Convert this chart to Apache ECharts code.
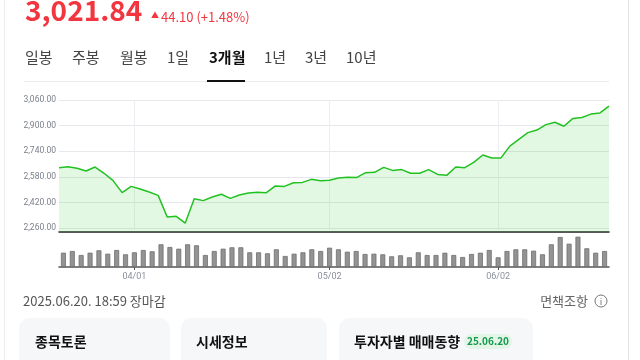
<!DOCTYPE html>
<html>
<head>
<meta charset="utf-8">
<script src="https://cdn.jsdelivr.net/npm/echarts@6/dist/echarts.min.js"></script>
<style>
html,body{margin:0;padding:0;background:#fff;}
#c{width:640px;height:360px;}
</style>
</head>
<body>
<div id="c"></div>
<script>
const dates = [
  '03/20','03/21','03/24','03/25','03/26','03/27','03/28','03/31',
  '04/01','04/02','04/03','04/04','04/07','04/08','04/09','04/10','04/11','04/14','04/15','04/16','04/17','04/18','04/21','04/22','04/23','04/24','04/25','04/28','04/29','04/30',
  '05/02','05/07','05/08','05/09','05/12','05/13','05/14','05/15','05/16','05/19','05/20','05/21','05/22','05/23','05/26','05/27','05/28','05/29','05/30',
  '06/02','06/04','06/05','06/09','06/10','06/11','06/12','06/13','06/16','06/17','06/18','06/19','06/20'
];
const closePrices = [
  2637,2643,2633,2616,2641,2602,2556,2481,
  2520,2504,2485,2464,2329,2333,2291,2443,2431,2454,2471,2445,2466,2479,2483,2481,2523,2520,2543,2545,2564,2556,
  2558,2572,2577,2575,2606,2608,2639,2620,2625,2602,2602,2625,2595,2589,2641,2637,2670,2716,2697,
  2697,2772,2814,2856,2872,2906,2921,2896,2945,2951,2972,2979,3022
];
const volumes = [
  286,320,240,286,334,266,340,254,
  294,340,314,454,400,366,454,434,240,320,366,394,394,294,294,274,354,220,266,294,354,320,
  386,354,306,320,260,266,254,214,234,194,294,240,240,286,240,200,260,286,340,
  194,320,354,354,326,254,454,600,466,606,374,286,320
];
const tickLabels = ['04/01','05/02','06/02'];
const priceTicks = [2260,2420,2580,2740,2900,3060];

const lastPrice = '3,021.84';
const changeText = '44.10 (+1.48%)';
const tabs = ['일봉','주봉','월봉','1일','3개월','1년','3년','10년'];
const selectedTab = '3개월';
const stampText = '2025.06.20. 18:59 장마감';

const KR = "'Noto Sans CJK KR','Noto Sans',sans-serif";
const showTick = (i, v) => tickLabels.indexOf(v) >= 0;

const tabX = [25,72,120,167,209,264,305,346];
const graphics = [];
// page borders
graphics.push({type:'line', shape:{x1:4.5,y1:0,x2:4.5,y2:360}, style:{stroke:'#ececec',lineWidth:1}});
graphics.push({type:'line', shape:{x1:628.5,y1:0,x2:628.5,y2:360}, style:{stroke:'#e4e4e4',lineWidth:1}});
// header
graphics.push({type:'text', left:25, top:-4, style:{text:lastPrice, font:"bold 28px "+KR, fill:'#f2363f'}});
graphics.push({type:'text', x:151, y:15, style:{text:'▲', font:"8px "+KR, fill:'#f2363f', verticalAlign:'middle'}});
graphics.push({type:'text', x:161, y:17, style:{text:changeText, font:"13px "+KR, fill:'#f2363f', verticalAlign:'middle'}});
// tabs
tabs.forEach((t, i) => {
  const sel = t === selectedTab;
  graphics.push({type:'text', x:tabX[i], y:57, style:{text:t, font:(sel?'bold ':'')+"15px "+KR, fill: sel?'#111':'#444', verticalAlign:'middle'}});
});
graphics.push({type:'line', shape:{x1:24,y1:81.5,x2:609,y2:81.5}, style:{stroke:'#ebebeb',lineWidth:1}});
graphics.push({type:'rect', shape:{x:207,y:80,width:38,height:2}, style:{fill:'#111'}});
// footer
graphics.push({type:'text', x:23, y:301, style:{text:stampText, font:"13px "+KR, fill:'#555', verticalAlign:'middle'}});
graphics.push({type:'text', x:588, y:301, style:{text:'면책조항', font:"13px "+KR, fill:'#666', verticalAlign:'middle', align:'right'}});
graphics.push({type:'circle', shape:{cx:601,cy:301,r:6}, style:{fill:'none', stroke:'#777', lineWidth:1}});
graphics.push({type:'text', x:601, y:301.5, style:{text:'i', font:"9px "+KR, fill:'#777', verticalAlign:'middle', align:'center'}});
// cards
[[19,151],[181,146],[339,194]].forEach(c => {
  graphics.push({type:'rect', shape:{x:c[0],y:318,width:c[1],height:60,r:10}, style:{fill:'#f6f7f9'}});
});
graphics.push({type:'text', x:35, y:342, style:{text:'종목토론', font:"bold 14px "+KR, fill:'#111', verticalAlign:'middle'}});
graphics.push({type:'text', x:196, y:342, style:{text:'시세정보', font:"bold 14px "+KR, fill:'#111', verticalAlign:'middle'}});
graphics.push({type:'text', x:354, y:342, style:{text:'투자자별 매매동향', font:"bold 14px "+KR, fill:'#111', verticalAlign:'middle'}});
graphics.push({type:'rect', shape:{x:464,y:334,width:48,height:15,r:7.5}, style:{fill:'#e2f5e7'}});
graphics.push({type:'text', x:488, y:341.5, style:{text:'25.06.20', font:"bold 10px "+KR, fill:'#12994a', verticalAlign:'middle', align:'center'}});

const chart = echarts.init(document.getElementById('c'), null, {renderer:'canvas'});
chart.setOption({
  animation:false,
  backgroundColor:'#fff',
  grid:[
    {left:59, right:31, top:100, bottom:128},
    {left:59, right:31, top:236, bottom:93},
    {left:59, right:31, top:100, bottom:132}
  ],
  xAxis:[
    {type:'category', gridIndex:0, data:dates, boundaryGap:false,
     axisLine:{show:true, lineStyle:{color:'#222', width:1.5}},
     axisTick:{show:false}, axisLabel:{show:false}, splitLine:{show:false}},
    {type:'category', gridIndex:1, data:dates, boundaryGap:true,
     axisLine:{show:true, lineStyle:{color:'#555', width:1.5}},
     axisTick:{show:true, interval:showTick, alignWithLabel:true, length:3, lineStyle:{color:'#555'}},
     axisLabel:{show:true, interval:showTick, color:'#8a8f99', fontSize:9, margin:5, fontFamily:'Roboto'},
     splitLine:{show:false}},
    {type:'category', gridIndex:2, data:dates, boundaryGap:true,
     axisLine:{show:false}, axisTick:{show:false, interval:showTick, alignWithLabel:true}, axisLabel:{show:false},
     splitLine:{show:true, interval:showTick, alignWithLabel:true, lineStyle:{color:'#eceef1', width:1}}}
  ],
  yAxis:[
    {type:'value', gridIndex:0, min:2235, max:3060, show:false, splitLine:{show:false}},
    {type:'value', gridIndex:1, min:0, max:620, show:false, splitLine:{show:false}},
    {type:'value', gridIndex:2, min:priceTicks[0], max:priceTicks[priceTicks.length-1], interval:160,
     axisLine:{show:false}, axisTick:{show:false},
     axisLabel:{color:'#7a7f8a', fontSize:8.5, margin:3, fontFamily:'Roboto',
       formatter:v => v.toLocaleString('en-US',{minimumFractionDigits:2, maximumFractionDigits:2})},
     splitLine:{show:true, lineStyle:{color:'#e6e8ec', width:1}}}
  ],
  series:[
    {type:'line', xAxisIndex:0, yAxisIndex:0, data:closePrices, symbol:'none',
     lineStyle:{color:'#22c122', width:1.5},
     areaStyle:{color:'rgba(40,200,40,0.19)', origin:'start'}, z:3},
    {type:'bar', xAxisIndex:1, yAxisIndex:1, data:volumes, barWidth:5,
     itemStyle:{color:'#939393', borderColor:'#6e6e6e', borderWidth:0.8}}
  ],
  graphic:graphics
});
</script>
</body>
</html>
